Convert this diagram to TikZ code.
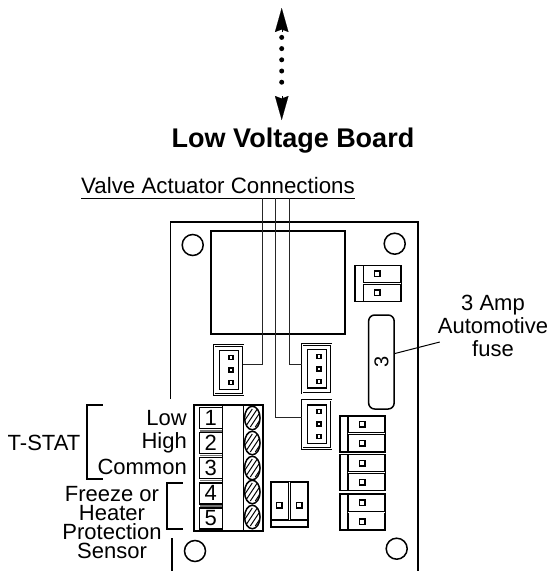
\documentclass[tikz,border=0pt]{standalone}
\usepackage{fontspec}
\setmainfont{Liberation Sans}
\usetikzlibrary{positioning, shapes.geometric}
\usetikzlibrary{arrows.meta}

\tikzset{
    label/.style={inner sep=0pt, font=\fontsize{22}{23}\selectfont, align=center},
    part/.style={draw, fill=white, rectangle, inner sep=0pt, outer sep=0pt, line width=1.5pt},
    wire/.style={draw=black!85, line width=1pt},
    hole/.style={draw, circle, minimum size=21pt, inner sep=0pt, line width=1.5pt},
    pinhole/.style={draw, fill=white, rectangle, minimum size=4pt, inner sep=0pt, line width=1.5pt},
    jack/.style={part, minimum width=29pt, minimum height=48.5pt, line width=0.9pt,
                 double=white, double distance=0.9pt},
    jackinner/.style={part, minimum width=19pt, minimum height=38.5pt, line width=1.4pt},
    plug/.style={part, minimum width=45.5pt, minimum height=36pt, line width=1.8pt},
    termcell/.style={part, minimum width=23pt, minimum height=21pt,
                     font=\fontsize{22}{22}\selectfont},
    screw/.style={draw, ellipse, fill=white, minimum width=15.5pt, minimum height=23.5pt,
                  inner sep=0pt, line width=1.5pt}
}

\begin{document}
\begin{tikzpicture}[x=1pt, y=-1pt]
    \useasboundingbox (0,0) rectangle (550,571);

    % link arrow
    \coordinate (top) at (281.7,8);
    \coordinate (bottom) at (281.7,120);
    \draw[line width=5pt,
          line cap=round,
          dash pattern=on 0pt off 11.2pt,
          dash phase=-1.7pt]
        (281.7,35.7) -- (281.7,93);
    \draw[-{Stealth[length=24pt, width=13.5pt, inset=2.5pt]}, line width=0.1pt]
        (281.7,32) -- (top);
    \draw[-{Stealth[length=24pt, width=13.5pt, inset=2.5pt]}, line width=0.1pt]
        (281.7,96) -- (bottom);

    \node[label, font=\fontsize{27}{28}\selectfont\bfseries] (title) at (293,141) {Low Voltage Board};
    \node[label, font=\fontsize{22.3}{23}\selectfont] (valve) at (218,186) {Valve Actuator Connections};
    \coordinate (lineL) at (81,198.3);
    \coordinate (lineR) at (355,198.3);
    \draw[line width=1.1pt] (lineL) -- (lineR);

    % board
    \draw[line width=1.5pt] (170.7,399) -- (170.7,222) -- (418,222) -- (418,571);
    \draw[line width=1.5pt] (172,538) -- (172,571);
    \node[hole] (holeA) at (192.7,245) {};
    \node[hole] (holeB) at (394.7,243.7) {};
    \node[hole] (holeC) at (195,551) {};
    \node[hole] (holeD) at (396.7,548.7) {};
    \node[part, fill=none, line width=1.7pt, minimum width=134.3pt, minimum height=103pt] (relay) at (277.9,282.2) {};

    % jacks
    \node[jack] (jackA) at (228.5,370) {};
    \node[jack] (jackB) at (316.5,368.8) {};
    \node[jack] (jackC) at (316.5,424.2) {};
    \foreach \n in {A,B,C} {
        \node[jackinner] (inner\n) at ([xshift=0.5pt]jack\n) {};
        \foreach \s in {-12.5,0,12.5}
            \node[pinhole] at ([xshift=2.5pt,yshift=\s pt]jack\n) {};
    }

    % wires
    \coordinate (wireA) at (262.3,198.3);
    \coordinate (wireB) at (275.7,198.3);
    \coordinate (wireC) at (289,198.3);
    \draw[wire] (wireA) |- ([yshift=6pt]jackA.east);
    \draw[wire] (wireB) |- ([yshift=6.3pt]jackC.west);
    \draw[wire] (wireC) |- ([yshift=4.8pt]jackB.west);

    % fuse
    \node[part, rounded corners=6pt, minimum width=25.5pt, minimum height=94pt] (fuse) at (381.4,362) {};
    \node[rotate=90, inner sep=0pt, font=\fontsize{20}{20}\selectfont] (fusenum) at (fuse) {3};
    \node[label] (fuselabel) at (493,326) {3 Amp\\Automotive\\fuse};
    \draw[line width=1pt] ([yshift=8.3pt]fuse.east) -- ([xshift=2pt,yshift=-16pt]fuselabel.west);

    % plugs
    \foreach \n/\px/\py in {A/378/283.4,B/362.6/433.8,C/362.6/472.5,D/362.6/512} {
        \node[plug] (plug\n) at (\px,\py) {};
        \draw[line width=1.5pt] ([xshift=8pt]plug\n.north west) -- ([xshift=8pt]plug\n.south west);
        \draw[line width=1pt, double=white, double distance=0.9pt]
            ([xshift=8pt]plug\n.west) -- (plug\n.east);
        \node[pinhole, minimum size=5.5pt] at ([xshift=-0.6pt,yshift=9.5pt]plug\n) {};
        \node[pinhole, minimum size=5.5pt] at ([xshift=-0.6pt,yshift=-9.5pt]plug\n) {};
    }

    % lower plug
    \node[part, line width=1.8pt, minimum width=36.4pt, minimum height=45.3pt] (plugE) at (289.5,504.3) {};
    \draw[line width=1.5pt] ([yshift=7pt]plugE.south west) -- ([yshift=7pt]plugE.south east);
    \draw[line width=1pt, double=white, double distance=0.9pt] (plugE.north) -- ([yshift=7pt]plugE.south);
    \node[pinhole, minimum size=5.5pt] at (279.3,505.3) {};
    \node[pinhole, minimum size=5.5pt] at (299,505.3) {};

    % terminal block
    \node[part, line width=2pt, minimum width=69pt, minimum height=126.3pt] (block) at (228.8,468.2) {};
    \draw[line width=1.4pt] (243.3,405) -- (243.3,531.3);
    \draw[line width=1.4pt] (222.3,405) -- (222.3,531.3);
    \foreach \n/\cy/\sy in {1/418/418,2/443/443,3/468/468,4/493.3/492,5/518.5/517} {
        \node[termcell] (cell\n) at (210.8,\cy) {\n};
        \node[screw,
              path picture={
                  \foreach \d in {-8,-3,2,7,12}
                      \draw[line width=1pt] ([xshift=\d pt-9pt,yshift=-9pt]path picture bounding box.center)
                          -- ([xshift=\d pt+3pt,yshift=9pt]path picture bounding box.center);
              }] (screw\n) at (252.3,\sy) {};
    }
    \foreach \gy in {431,455.5,480.5,506}
        \draw[line width=1.8pt, black!55] (199.5,\gy) -- (222,\gy);

    % t-stat labels
    \node[label, anchor=east] (low) at (187,418) {Low};
    \node[label, anchor=east] (high) at (187,443) {High};
    \node[label, anchor=east] (common) at (187,467) {Common};
    \node[label] (tstat) at (44,443) {T-STAT};
    \draw[line width=1.6pt] (102.7,405) -| (86.7,479) -- (102.7,479);

    \node[label, font=\fontsize{22}{19}\selectfont] (sensor) at (112,522.5) {Freeze or\\Heater\\Protection\\Sensor};
    \draw[line width=1.6pt] (182.7,483) -| (166.7,529) -- (182.7,529);
\end{tikzpicture}
\end{document}
